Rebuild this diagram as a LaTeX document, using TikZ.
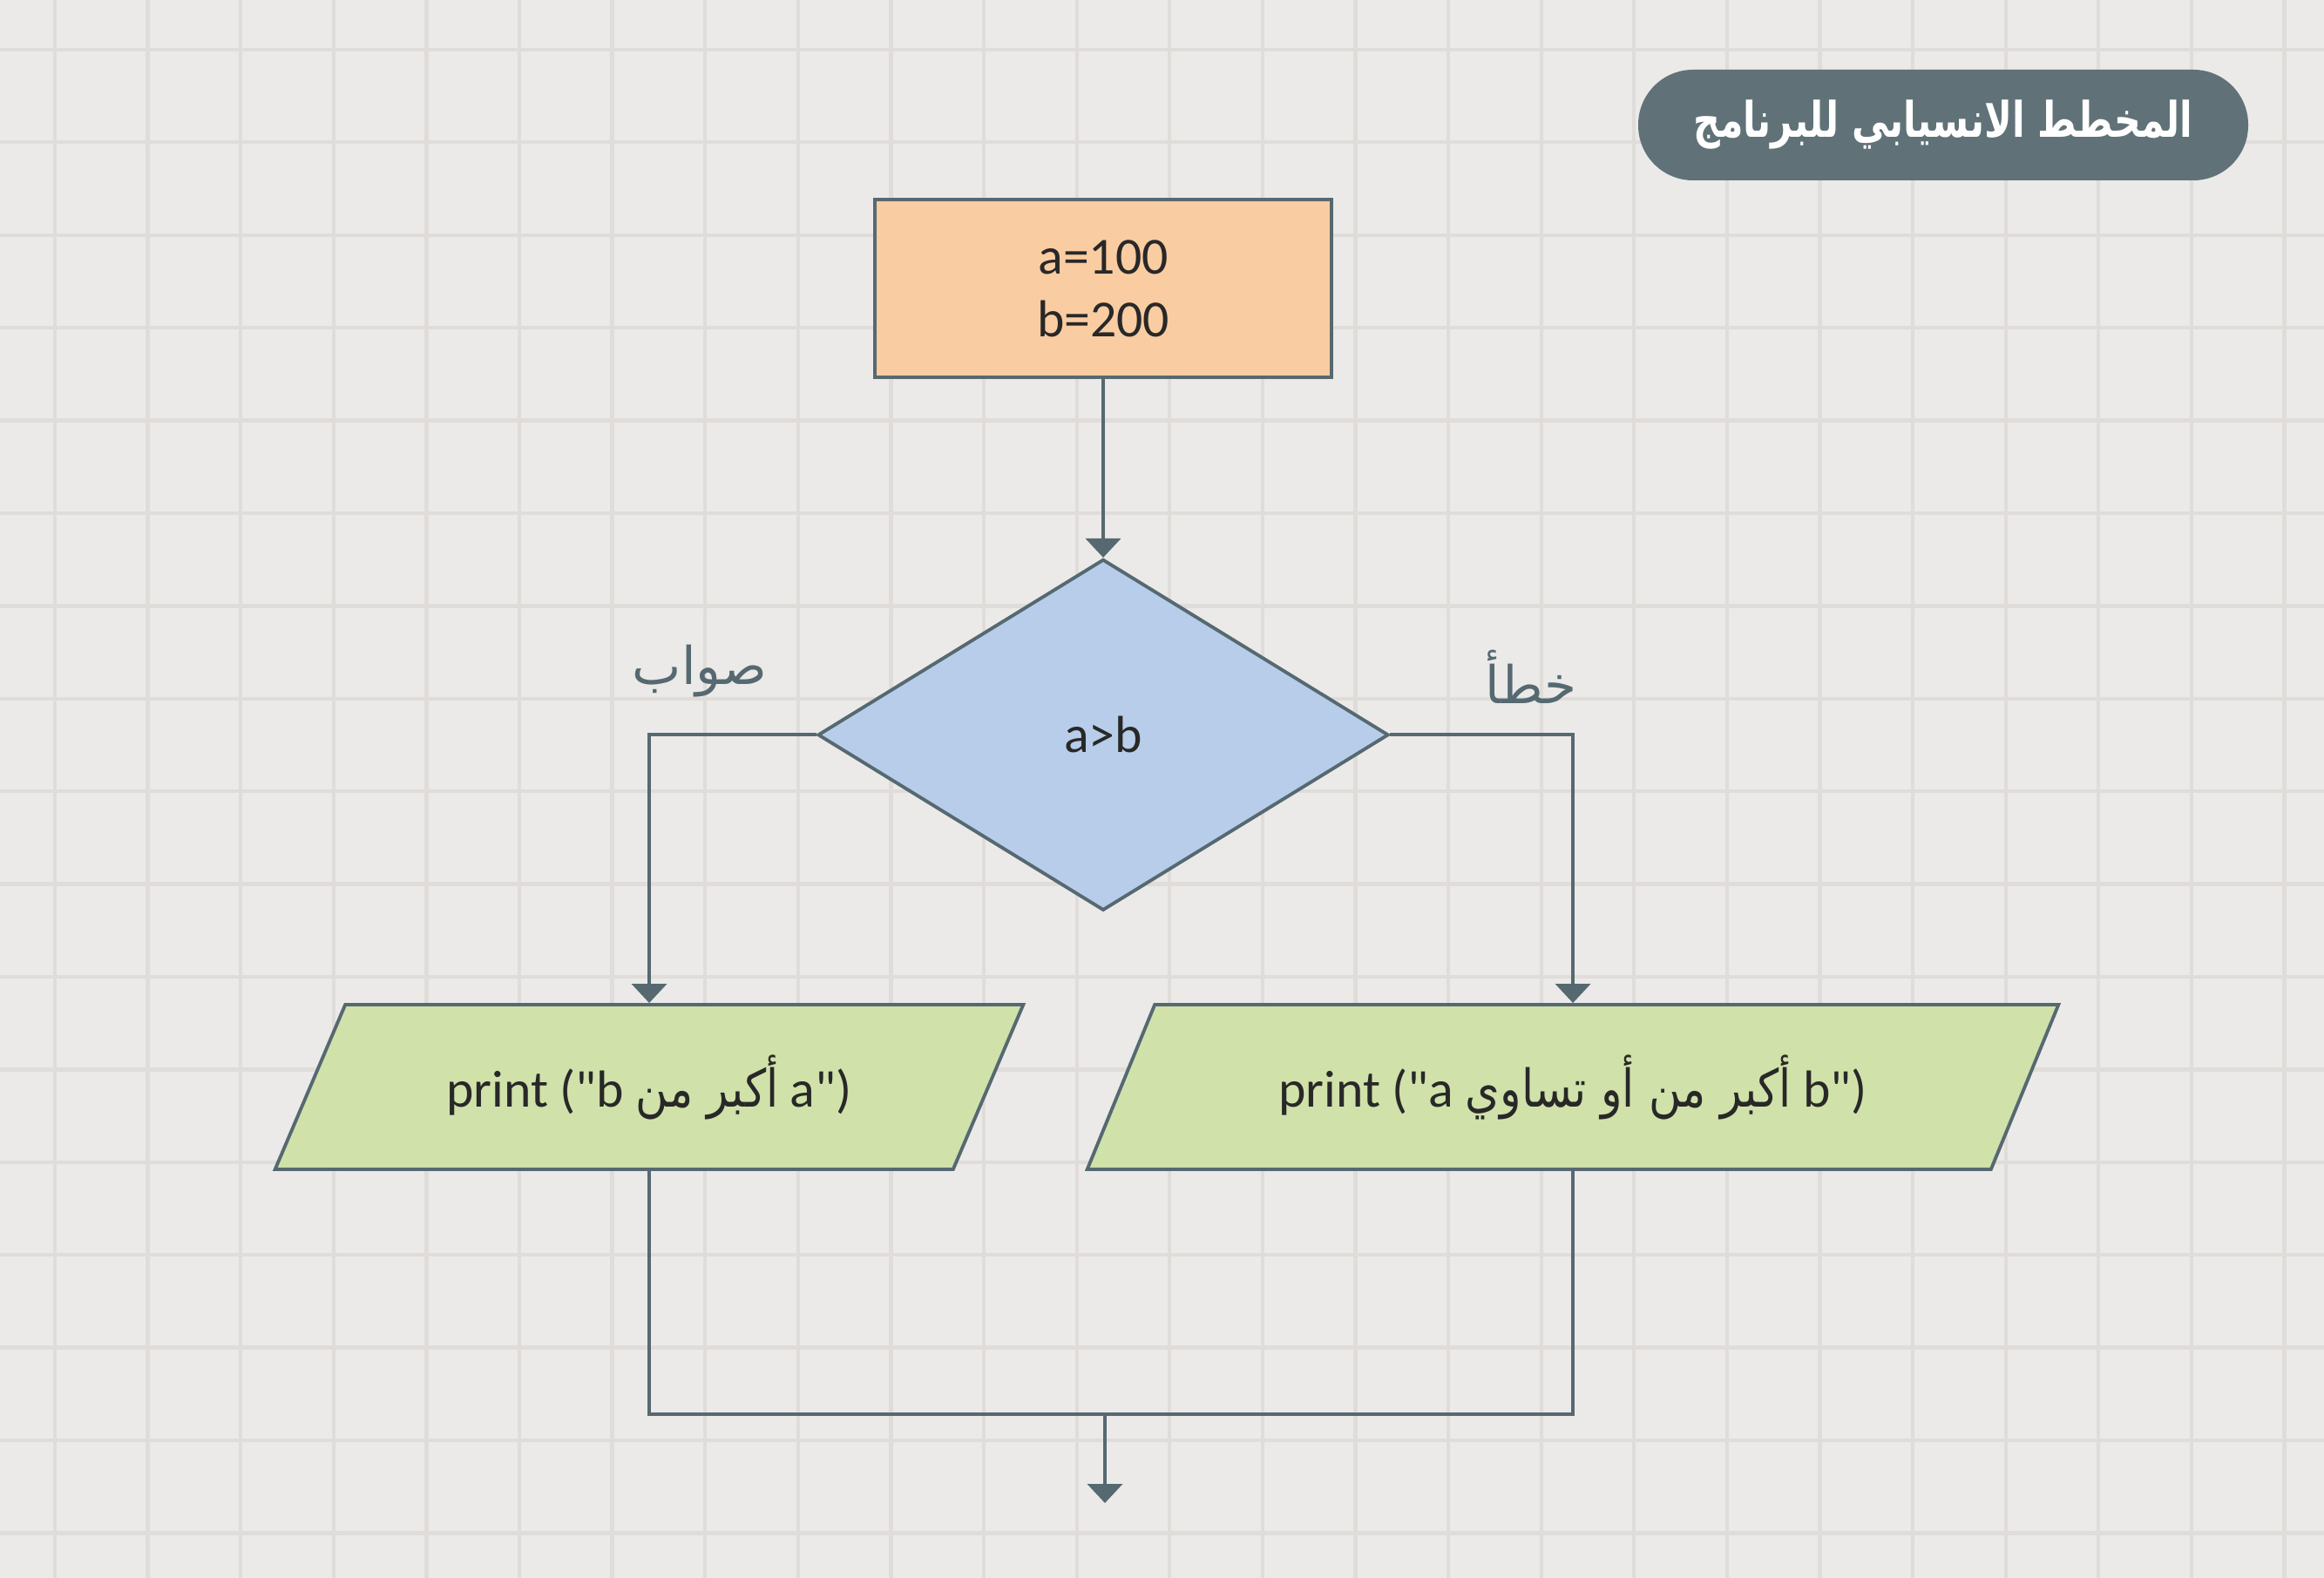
\documentclass[tikz,border=0pt]{standalone}
\usepackage{fontspec}
\setmainfont{Carlito}
\newfontfamily\latinfont{Carlito}
\newfontfamily\arabicfont[Script=Arabic]{DejaVu Sans}
\newfontfamily\arabicnarrow[Script=Arabic, FakeStretch=0.85]{DejaVu Sans}
\newfontfamily\titlefont[Script=Arabic, FakeStretch=0.76]{DejaVu Sans Bold}
\TeXXeTstate=1
\usepackage{tikz}
\usetikzlibrary{shapes.geometric, arrows.meta, positioning}
\definecolor{slate}{RGB}{86,105,113}
\definecolor{pillgray}{RGB}{96,114,120}
\definecolor{paper}{RGB}{235,234,233}
\definecolor{gridc}{RGB}{224,220,217}
\definecolor{orangefill}{RGB}{250,204,161}
\definecolor{bluefill}{RGB}{183,205,234}
\definecolor{greenfill}{RGB}{208,225,170}
\definecolor{inkc}{RGB}{40,40,40}

\begin{document}
\begin{tikzpicture}[font=\latinfont\fontsize{17}{20.5}\selectfont, gridline/.style={draw=gridc, line width=1.2pt},
     box/.style={rectangle, draw=slate, line width=1.1pt, text=inkc, align=center},
     startbox/.style={box, fill=orangefill, minimum width=5.24cm, minimum height=2.04cm},
     decbox/.style={box, diamond, fill=bluefill, minimum width=6.55cm, minimum height=4.03cm, inner sep=0pt},
     iobox/.style={box, trapezium, trapezium left angle=60, trapezium right angle=120, trapezium stretches=true, fill=greenfill, minimum height=1.89cm},
     lbl/.style={text=slate, font=\arabicfont\fontsize{17}{20}\selectfont},
     arrow/.style={draw=slate, line width=1.2pt, -{Triangle[width=4mm,length=2.2mm]}}, line/.style={draw=slate, line width=1.2pt}]
     \useasboundingbox (0,0) rectangle (26.67,-18.11);
     \fill[paper] (0,0) rectangle (26.67,-18.11);
     \foreach \i in {0,...,24} \draw[gridline] (0.63+1.066*\i,0) -- ++(0,-18.11);
     \foreach \j in {0,...,16} \draw[gridline] (0,-0.57-1.064*\j) -- ++(26.67,0);
     % title
     \node (title) [fill=pillgray, rounded corners=0.63cm, minimum width=7cm, minimum height=1.27cm, text=white,
       font=\titlefont\fontsize{16}{20}\selectfont] at (22.30,-1.435) {\beginR المخطط الانسيابي للبرنامج\endR};
     % flowchart
     \node (init) [startbox] at (12.66,-3.31) {a=100\\b=200};
     \node (dec) [decbox, below=2.05cm of init] {a>b};
     \node (outA) [iobox, minimum width=8.61cm] at (7.45,-12.475) {print ("b {\arabicnarrow\beginR أكبر من\endR} a")};
     \node (outB) [iobox, minimum width=11.18cm] at (18.05,-12.475) {print ("a {\arabicnarrow\beginR أكبر من أو تساوي\endR} b")};
     \node (lblT) [lbl] at (8.03,-7.70) {\beginR صواب\endR};\node (lblF) [lbl] at (17.57,-7.77) {\beginR خطأ\endR};
     \coordinate (merge) at (12.68,-16.23);\coordinate (stop) at (12.68,-17.25);
     \draw [arrow] (init) -- (dec);\draw [arrow] (dec.west) -| (outA.north);\draw [arrow] (dec.east) -| (outB.north);
     \draw [line] (outA.south) |- (merge) -| (outB.south);\draw [arrow] (merge) -- (stop);
\end{tikzpicture}
\end{document}
